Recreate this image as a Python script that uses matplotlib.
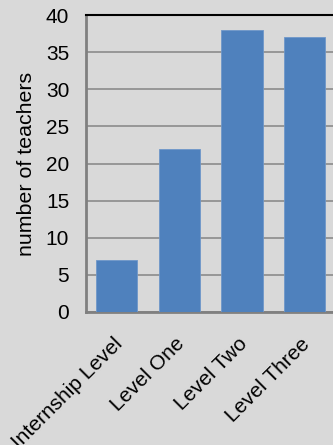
import matplotlib
matplotlib.use('Agg')
import matplotlib.pyplot as plt
import matplotlib.transforms as mtransforms

# data
levels = ['Internship Level', 'Level One', 'Level Two', 'Level Three']
teachers = [7, 22, 38, 37]
yticks = [0, 5, 10, 15, 20, 25, 30, 35, 40]

bg = '#d9d9d9'
barColor = '#4f81bd'

plt.rcParams['font.family'] = ['Liberation Sans', 'DejaVu Sans']

fig = plt.figure(figsize=(3.33, 4.45), dpi=100, facecolor=bg)
ax = fig.add_axes([0.258, 0.299, 0.745, 0.667], facecolor=bg)

xs = range(len(levels))
ax.bar(xs, teachers, width=0.66, color=barColor, edgecolor='#6f97c9', linewidth=0.6, zorder=3)

ax.set_xlim(-0.49, 3.47)
ax.set_ylim(0, 40)
ax.set_yticks(yticks)
ax.yaxis.grid(True, color='#8c8c8c', linewidth=1.2, zorder=0)

for side in ['left', 'bottom']:
    ax.spines[side].set_color('#808080')
    ax.spines[side].set_linewidth(2)
ax.spines['top'].set_color('black')
ax.spines['top'].set_linewidth(1.5)
ax.spines['right'].set_visible(False)

ax.tick_params(axis='y', length=0, pad=12, labelsize=15, colors='black')
ax.tick_params(axis='x', length=0, pad=16, labelsize=15, colors='black')
ax.set_xticks(list(xs))
ax.set_xticklabels(levels, rotation=45, ha='right', va='top', rotation_mode='anchor')
shift = mtransforms.ScaledTranslation(-4/100, 0, fig.dpi_scale_trans)
for lbl in ax.get_xticklabels():
    lbl.set_transform(lbl.get_transform() + shift)

ax.set_ylabel('number of teachers', fontsize=15.4, labelpad=7)

fig.savefig('out.png', dpi=100, facecolor=bg)
